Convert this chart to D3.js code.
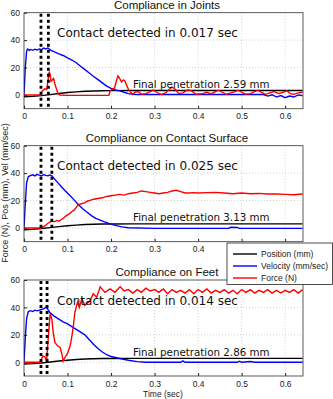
<!DOCTYPE html>
<html>
<head>
<meta charset="utf-8">
<script src="https://cdn.jsdelivr.net/npm/d3@7/dist/d3.min.js"></script>
<style>
  body { margin: 0; background: #fff; }
  svg text { font-family: "Liberation Sans", Arial, sans-serif; }
  .ann { font-family: "DejaVu Sans", sans-serif; fill: #111; }
</style>
</head>
<body>
<svg width="333" height="399"></svg>
<script>
// panel titles and annotations
var titles = ["Compliance in Joints", "Compliance on Contact Surface", "Compliance on Feet"];
var contactText = ["Contact detected in 0.017 sec", "Contact detected in 0.025 sec", "Contact detected in 0.014 sec"];
var finalText = ["Final penetration 2.59 mm", "Final penetration 3.13 mm", "Final penetration 2.86 mm"];
// contact markers (start, detected) in sec
var contactMarks = [[0.039, 0.056], [0.039, 0.064], [0.039, 0.053]];

var xTicks = [0, 0.1, 0.2, 0.3, 0.4, 0.5, 0.6];
var yTicks = [0, 20, 40, 60];
var legendNames = ["Position (mm)", "Velocity (mm/sec)", "Force (N)"];

// ---- Compliance in Joints ----
var jointsPos = [[0,-1.3],[0.02,-1],[0.04,-0.5],[0.06,0.3],[0.08,1.1],[0.1,1.8],[0.12,2.3],[0.14,2.7],[0.16,2.95],[0.18,3.1],[0.2,3.2],[0.25,3.25],[0.64,3.25]];
var jointsVel = [[0,0],[0.003,20],[0.006,32],[0.008,33.5],[0.012,32.5],[0.016,33.2],[0.02,32.6],[0.025,33.4],[0.03,32.8],[0.035,33.6],[0.04,33],[0.045,34.2],[0.05,33.6],[0.055,34.3],[0.058,33.5],[0.062,32.5],[0.07,31.5],[0.08,30],[0.09,28.8],[0.1,27],[0.11,25.5],[0.12,23.5],[0.13,21],[0.14,18.5],[0.15,16],[0.16,13.5],[0.17,11.2],[0.18,8.8],[0.19,6.5],[0.2,4.8],[0.21,3.6],[0.22,3],[0.23,2],[0.24,1],[0.25,0.5],[0.26,0.3],[0.3,0.3],[0.4,0.3],[0.5,0.3],[0.55,0.3],[0.56,-0.8],[0.57,0.2],[0.58,-1.5],[0.59,-0.4],[0.6,-2],[0.61,-0.8],[0.62,-1.5],[0.63,0],[0.64,-0.5]];
var jointsForce = [[0,0],[0.02,0],[0.039,0],[0.042,3],[0.048,4.5],[0.052,4],[0.055,10],[0.058,17],[0.06,15],[0.062,10],[0.065,11],[0.068,12],[0.071,8],[0.074,5],[0.078,1],[0.082,0],[0.1,-0.3],[0.15,-0.3],[0.195,-0.3],[0.198,3],[0.203,4.5],[0.208,5],[0.212,10],[0.216,14],[0.22,12],[0.224,9.5],[0.228,11],[0.232,10],[0.236,7],[0.24,4],[0.245,2],[0.25,0.5],[0.255,2],[0.262,2.5],[0.27,0.5],[0.28,1],[0.29,2.5],[0.297,3.6],[0.305,2],[0.315,0.3],[0.325,1.5],[0.34,5.8],[0.348,4],[0.355,1],[0.365,1.5],[0.377,3.8],[0.385,3],[0.395,0.5],[0.41,1],[0.42,2],[0.43,0.8],[0.44,2.5],[0.447,3.5],[0.455,2],[0.465,0.5],[0.475,1.5],[0.485,2.5],[0.492,3.5],[0.5,2],[0.51,0.5],[0.52,1],[0.53,2.5],[0.537,3.5],[0.545,2],[0.555,0.5],[0.565,1.5],[0.575,2.5],[0.585,1],[0.595,2],[0.604,3],[0.612,1],[0.62,0.5],[0.63,1.5],[0.64,2]];

// ---- Compliance on Contact Surface ----
var surfPos = [[0,-1.3],[0.02,-1],[0.04,-0.4],[0.06,0.3],[0.08,1],[0.1,1.6],[0.12,2.1],[0.14,2.5],[0.16,2.75],[0.18,2.9],[0.2,2.95],[0.25,3],[0.64,3]];
var surfVel = [[0,0],[0.003,18],[0.006,33],[0.01,37.5],[0.015,38.2],[0.02,38.8],[0.025,38],[0.03,39.1],[0.035,38.5],[0.04,38],[0.045,39],[0.05,38.4],[0.055,38.1],[0.06,38.7],[0.064,38],[0.068,36.5],[0.075,34],[0.085,30.5],[0.095,27],[0.105,23.8],[0.115,20.5],[0.125,17],[0.135,14],[0.145,11.5],[0.155,9],[0.165,7],[0.175,5.8],[0.185,4.5],[0.195,3.3],[0.205,2.3],[0.215,1.5],[0.225,0.8],[0.24,0.2],[0.3,-0.3],[0.47,-0.3],[0.475,0.5],[0.49,0.4],[0.495,-0.3],[0.64,-0.3]];
var surfForce = [[0,0],[0.038,0],[0.045,1],[0.05,2],[0.055,3.5],[0.06,4.5],[0.065,5],[0.07,4.5],[0.075,5.5],[0.08,5],[0.085,6],[0.09,7],[0.095,8.5],[0.1,9.5],[0.105,10.5],[0.11,12],[0.115,13],[0.12,15],[0.125,17],[0.13,17.5],[0.135,18],[0.14,18.5],[0.145,19.5],[0.15,20],[0.16,21],[0.17,21.5],[0.18,22],[0.19,23],[0.2,23.5],[0.21,24],[0.22,24.5],[0.23,24],[0.24,25],[0.25,25.5],[0.26,26],[0.27,27],[0.28,26.5],[0.29,26],[0.3,25.5],[0.31,25],[0.32,25.5],[0.33,26],[0.34,27],[0.35,27.5],[0.36,26.5],[0.37,25.5],[0.38,25.5],[0.39,25.8],[0.4,25.5],[0.42,25.8],[0.44,26],[0.46,25.5],[0.48,25],[0.5,25.5],[0.52,25],[0.54,25.2],[0.56,24.8],[0.58,24.8],[0.6,24.5],[0.62,24.2],[0.64,24.8]];

// ---- Compliance on Feet ----
var feetPos = [[0,-1.3],[0.02,-1],[0.04,-0.5],[0.06,0.2],[0.08,0.9],[0.1,1.5],[0.12,2],[0.14,2.35],[0.16,2.6],[0.18,2.75],[0.2,2.8],[0.25,2.85],[0.64,2.85]];
var feetVel = [[0,0],[0.003,18],[0.006,32],[0.01,37],[0.015,37.6],[0.02,37],[0.025,38],[0.03,37.5],[0.035,38],[0.04,38.5],[0.045,39],[0.05,40],[0.053,39.5],[0.057,37.5],[0.06,36],[0.07,33.5],[0.08,31.5],[0.09,29.5],[0.1,28],[0.11,26],[0.12,24],[0.13,22],[0.14,20],[0.15,16.5],[0.16,13],[0.17,10],[0.18,7.5],[0.19,5.5],[0.2,4.2],[0.22,2.8],[0.24,1.5],[0.26,0.5],[0.28,0],[0.36,0],[0.365,1],[0.37,0],[0.49,0],[0.495,0.8],[0.5,0],[0.52,0.6],[0.53,0],[0.64,0]];
var feetForce = [[0,0],[0.037,0],[0.043,4.5],[0.048,4],[0.052,1],[0.056,19],[0.06,35],[0.064,31.5],[0.067,22],[0.071,14.5],[0.077,12],[0.083,10.8],[0.087,6],[0.09,1],[0.094,3.5],[0.1,6.5],[0.106,12],[0.11,19],[0.113,25.5],[0.117,36.5],[0.123,44],[0.127,40],[0.133,46],[0.14,41.5],[0.152,45],[0.159,50],[0.167,47.5],[0.175,55],[0.186,51],[0.198,53.5],[0.209,51],[0.221,55],[0.23,52],[0.24,53],[0.25,50.5],[0.26,53],[0.27,51],[0.28,54],[0.29,52],[0.3,53],[0.31,51],[0.32,53.5],[0.33,50],[0.34,53],[0.35,51],[0.36,52.5],[0.37,50.5],[0.38,53],[0.39,50],[0.4,53],[0.41,51],[0.42,53.5],[0.43,50.5],[0.44,52.5],[0.45,51],[0.46,53],[0.47,50.5],[0.48,52.5],[0.49,50],[0.5,53],[0.51,51],[0.52,53],[0.53,50.5],[0.54,52.5],[0.55,51],[0.56,53],[0.57,50.5],[0.58,52.5],[0.59,50.5],[0.6,52.5],[0.61,51],[0.62,53],[0.63,50.5],[0.64,53]];

var panelData = [
  [jointsPos, jointsVel, jointsForce],
  [surfPos, surfVel, surfForce],
  [feetPos, feetVel, feetForce]
];
var colors = ["#000000", "#0000ff", "#ff0000"];

var svg = d3.select("svg");

var left = 24, right = 303;
var panelTops = [12.7, 145.7, 280];
var panelH = 96;
// legend box (covers the lower right of the middle panel)
var legX = 227, legY = 243, legW = 105.5, legH = 41.5;

var xScale = d3.scaleLinear().domain([0, 0.641]).range([left, right]);

panelData.forEach(function(series, i) {
  var top = panelTops[i], bottom = top + panelH;
  var yScale = d3.scaleLinear().domain([-10, 60]).range([bottom, top]);
  var g = svg.append("g");

  g.append("rect").attr("x", left).attr("y", top)
    .attr("width", right - left).attr("height", panelH).attr("fill", "#fff");

  // grid
  g.selectAll(".gx").data(xTicks.slice(1)).enter().append("line")
    .attr("x1", function(d) { return xScale(d); }).attr("x2", function(d) { return xScale(d); })
    .attr("y1", top).attr("y2", bottom)
    .attr("stroke", "#c8c8c8").attr("stroke-width", 0.8).attr("stroke-dasharray", "1,2");
  g.selectAll(".gy").data([0, 20, 40]).enter().append("line")
    .attr("y1", function(d) { return yScale(d); }).attr("y2", function(d) { return yScale(d); })
    .attr("x1", left).attr("x2", right)
    .attr("stroke", "#c8c8c8").attr("stroke-width", 0.8).attr("stroke-dasharray", "1,2");

  // axes (ticks inside, like matlab); labels hidden under the legend are skipped
  var xLabels = xTicks.filter(function(d) {
    return !(bottom < legY + legH && bottom + 12 > legY && xScale(d) + 8 > legX);
  });
  var xAxis = d3.axisBottom(xScale).tickValues(xTicks).tickSizeInner(-3).tickSizeOuter(0)
    .tickPadding(4.5).tickFormat(function(d) {
      if (xLabels.indexOf(d) < 0) return "";
      return d === 0 ? "0" : d3.format(".1f")(d);
    });
  var yAxis = d3.axisLeft(yScale).tickValues(yTicks).tickSizeInner(-3).tickSizeOuter(0).tickPadding(4);
  var gx = g.append("g").attr("transform", "translate(0," + bottom + ")").call(xAxis);
  var gy = g.append("g").attr("transform", "translate(" + left + ",0)").call(yAxis);
  [gx, gy].forEach(function(a) {
    a.select(".domain").remove();
    a.selectAll("text").attr("font-size", 8.5).attr("fill", "#222");
    a.selectAll("line").attr("stroke", "#222");
  });

  // lines
  var clipId = "clip" + i;
  g.append("clipPath").attr("id", clipId).append("rect")
    .attr("x", left).attr("y", top).attr("width", right - left).attr("height", panelH);
  var line = d3.line().x(function(d) { return xScale(d[0]); }).y(function(d) { return yScale(d[1]); });
  series.forEach(function(s, k) {
    g.append("path").datum(s).attr("d", line).attr("fill", "none")
      .attr("stroke", colors[k]).attr("stroke-width", 1.4)
      .attr("clip-path", "url(#" + clipId + ")");
  });

  // contact markers
  g.selectAll(".cm").data(contactMarks[i]).enter().append("line")
    .attr("x1", function(d) { return xScale(d); }).attr("x2", function(d) { return xScale(d); })
    .attr("y1", top + 1).attr("y2", bottom)
    .attr("stroke", "#000").attr("stroke-width", 2.8).attr("stroke-dasharray", "3,3");

  // frame
  g.append("rect").attr("x", left).attr("y", top)
    .attr("width", right - left).attr("height", panelH)
    .attr("fill", "none").attr("stroke", "#333").attr("stroke-width", 0.8);

  g.append("text").attr("x", 167).attr("y", top - 4).attr("text-anchor", "middle")
    .attr("font-size", 11.5).attr("fill", "#111").text(titles[i]);
  g.append("text").attr("class", "ann").attr("x", 57).attr("y", top + 24.5)
    .attr("font-size", 12).text(contactText[i]);
  g.append("text").attr("class", "ann").attr("x", 133).attr("y", top + 75.5)
    .attr("font-size", 10.3).text(finalText[i]);
});

// axis labels
svg.append("text").attr("transform", "translate(7.5,193) rotate(-90)")
  .attr("text-anchor", "middle").attr("font-size", 9).attr("fill", "#222")
  .text("Force (N), Pos (mm), Vel (mm/sec)");
svg.append("text").attr("x", 163).attr("y", 397).attr("text-anchor", "middle")
  .attr("font-size", 8.5).attr("fill", "#222").text("Time (sec)");

// legend
var lg = svg.append("g");
lg.append("rect").attr("x", legX).attr("y", legY).attr("width", legW).attr("height", legH)
  .attr("fill", "#fff").attr("stroke", "#222").attr("stroke-width", 0.8);
var legendY = d3.scalePoint().domain(legendNames).range([254, 278]);
legendNames.forEach(function(n, k) {
  lg.append("line").attr("x1", 233).attr("x2", 257)
    .attr("y1", legendY(n)).attr("y2", legendY(n))
    .attr("stroke", colors[k]).attr("stroke-width", 1.4);
  lg.append("text").attr("x", 261).attr("y", legendY(n) + 3).attr("font-size", 8.5)
    .attr("fill", "#222").text(n);
});
</script>
</body>
</html>
